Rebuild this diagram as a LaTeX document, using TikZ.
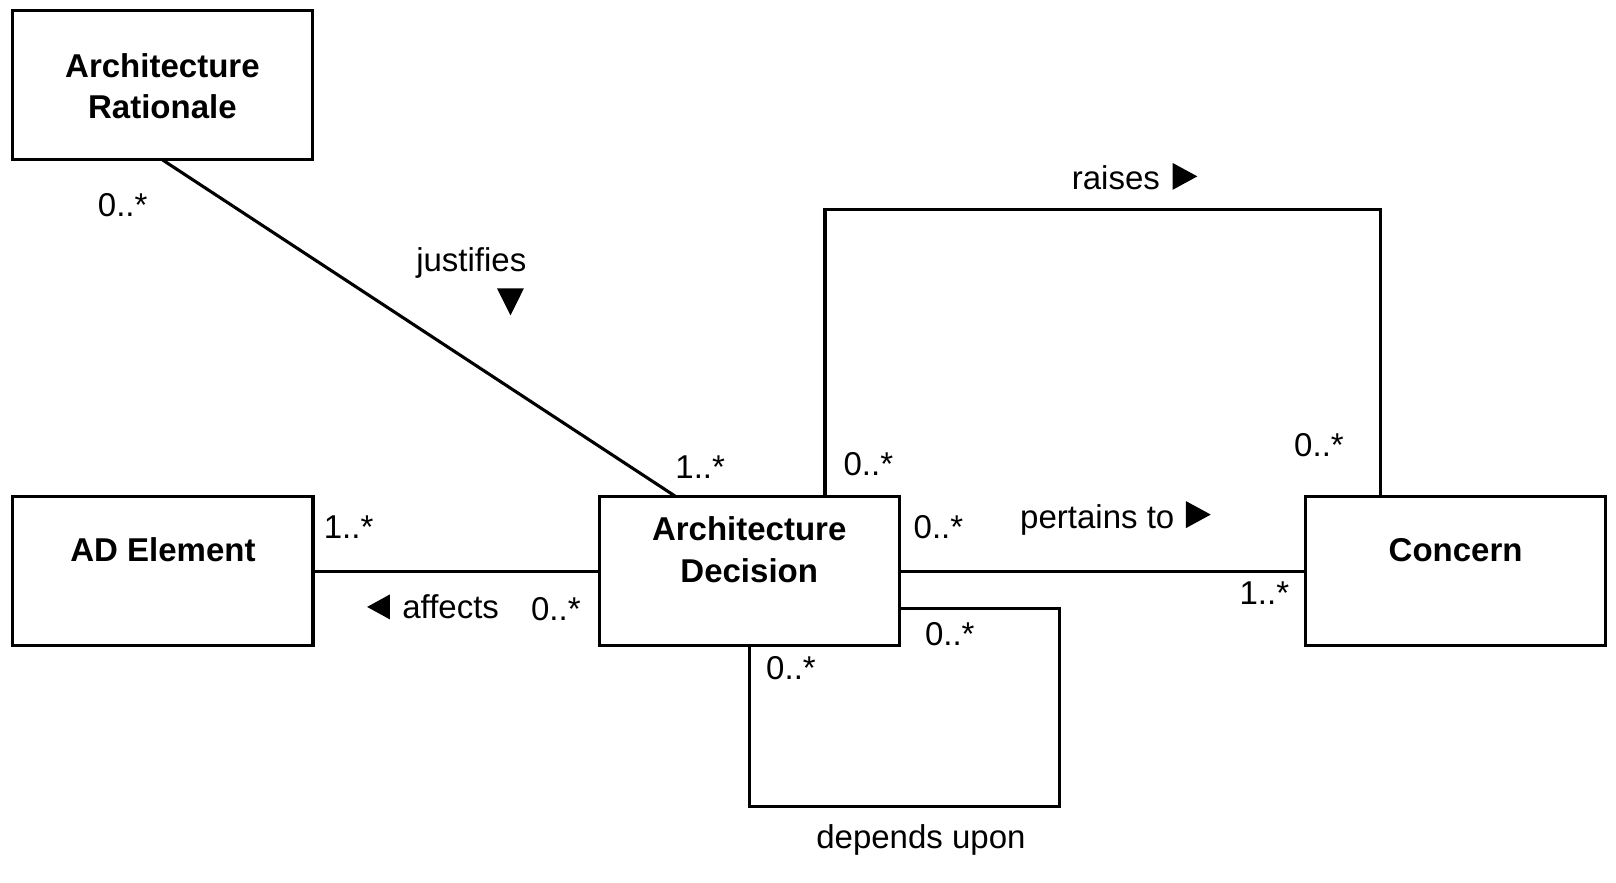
\documentclass[tikz,border=0pt]{standalone}
\usepackage{fontspec}
\setmainfont{Liberation Sans}
\usetikzlibrary{calc}
\begin{document}
\begin{tikzpicture}[x=0.5pt,y=-0.503pt,
  every node/.style={inner sep=0pt,outer sep=0pt},
  classbox/.style={draw,line width=1.5pt,minimum width=145.5pt,minimum height=72.5pt,rectangle},
  cname/.style={font=\fontsize{16}{20}\selectfont\bfseries,align=center,anchor=base},
  lbl/.style={font=\fontsize{16}{20}\selectfont,anchor=base},
  conn/.style={line width=1.5pt}]
\useasboundingbox (0,0) rectangle (1567,851.1);
% boxes
\node[classbox] (ar) at (157.5,82) {};
\node[classbox] (ade) at (158,550.5) {};
\node[classbox] (dec) at (726.5,550.5) {};
\node[classbox] (con) at (1411.5,550.5) {};
% class names
\node[cname] (art1) at (157.5,74.6) {Architecture};
\node[cname] (art2) at (157.5,114) {Rationale};
\node[cname] (adet) at (158,541) {AD Element};
\node[cname] (dect1) at (726.5,521) {Architecture};
\node[cname] (dect2) at (726.5,561) {Decision};
\node[cname] (cont) at (1411.5,541) {Concern};
% connectors
\coordinate (jend) at ([xshift=37pt]dec.north west);
\draw[conn] (ar.south) -- (jend);
\draw[conn] (ade.east) -- (dec.west);
\draw[conn] (dec.east) -- (con.west);
\coordinate (rs) at ([xshift=109.5pt]dec.north west);
\coordinate (re) at ([xshift=36.5pt]con.north west);
\draw[conn,line join=miter] (rs) -- (rs |- 0,201.6) -- (re |- 0,201.6) -- (re);
\coordinate (ds) at ([yshift=-18pt]dec.east);
\coordinate (dc) at (1027,777);
\draw[conn,line join=miter] (ds) -- (ds -| dc) -- (dc) -- (dec.south |- dc) -- (dec.south);
% multiplicities and labels
\node[lbl] (m1) at (119,209) {0..*};
\node[lbl] (jl) at (457,262) {justifies};
\fill (482,278) -- (508,278) -- (495,304) -- cycle;
\node[lbl] (m2) at (679,461.5) {1..*};
\node[lbl] (m3) at (842,458) {0..*};
\node[lbl] (rl) at (1082,183) {raises};
\fill (1137,157) -- (1137,183) -- (1161,170) -- cycle;
\node[lbl] (m4) at (1279,440) {0..*};
\node[lbl] (m5) at (338,519) {1..*};
\fill (378,573) -- (378,597) -- (356,585) -- cycle;
\node[lbl] (al) at (437,596) {affects};
\node[lbl] (m6) at (539,598) {0..*};
\node[lbl] (m7) at (910,519) {0..*};
\node[lbl] (pl) at (1064,509) {pertains to};
\fill (1150,483) -- (1150,509) -- (1174,496) -- cycle;
\node[lbl] (m8) at (1226,583) {1..*};
\node[lbl] (m9) at (921,622) {0..*};
\node[lbl] (m10) at (767,655) {0..*};
\node[lbl] (dl) at (893,818) {depends upon};
\end{tikzpicture}
\end{document}
